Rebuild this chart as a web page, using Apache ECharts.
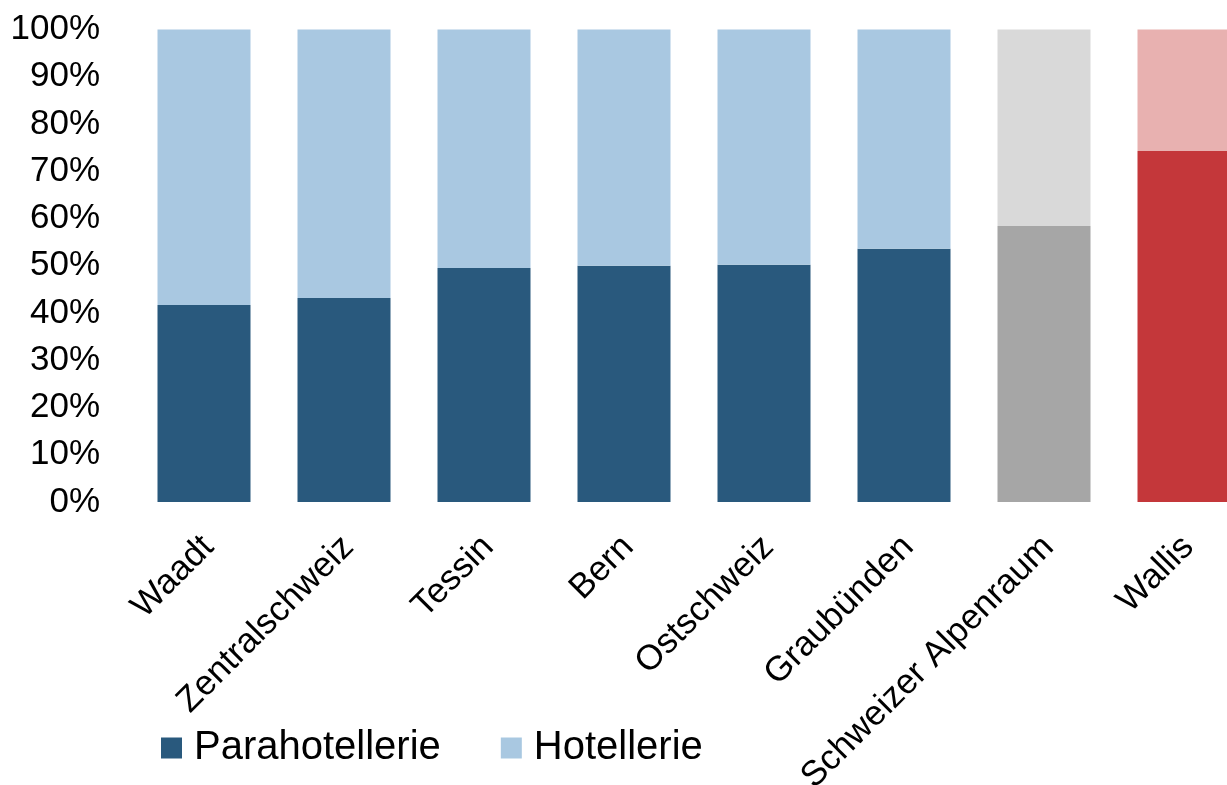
<!DOCTYPE html>
<html>
<head>
<meta charset="utf-8">
<script src="https://cdn.jsdelivr.net/npm/echarts@6/dist/echarts.min.js"></script>
<style>
  html, body { margin: 0; padding: 0; background: #fff; }
  #chart { width: 1227px; height: 785px; }
</style>
</head>
<body>
<div id="chart"></div>
<script>
// Regionen
var categories = ['Waadt', 'Zentralschweiz', 'Tessin', 'Bern', 'Ostschweiz', 'Graubünden', 'Schweizer Alpenraum', 'Wallis'];
// Anteile in %
var parahotellerie = [41.7, 43.2, 49.5, 50.0, 50.2, 53.6, 58.4, 74.3];
var hotellerie = [58.3, 56.8, 50.5, 50.0, 49.8, 46.4, 41.6, 25.7];
var yTicks = [0, 10, 20, 30, 40, 50, 60, 70, 80, 90, 100];

// Farben je Balken (dunkel / hell)
var darkColors = ['#29597d', '#29597d', '#29597d', '#29597d', '#29597d', '#29597d', '#a6a6a6', '#c4373a'];
var lightColors = ['#a9c8e1', '#a9c8e1', '#a9c8e1', '#a9c8e1', '#a9c8e1', '#a9c8e1', '#d9d9d9', '#e8b1b0'];

var font = 'Liberation Sans';

var chart = echarts.init(document.getElementById('chart'));
chart.setOption({
    animation: false,
    legend: {
        left: 156,
        bottom: 12,
        itemWidth: 21,
        itemHeight: 21,
        itemGap: 60,
        icon: 'rect',
        textStyle: { fontFamily: font, fontSize: 40, color: '#000', padding: [0, 0, 0, 7] },
        data: ['Parahotellerie', 'Hotellerie']
    },
    grid: {
        left: 134,
        width: 1120,
        top: 29.5,
        bottom: 283,
        outerBoundsMode: 'none',
        containLabel: false
    },
    xAxis: {
        type: 'category',
        data: categories,
        axisLine: { show: false },
        axisTick: { show: false },
        axisLabel: {
            interval: 0,
            rotate: 45,
            margin: 44,
            padding: [0, -6, 0, 0],
            fontFamily: font,
            fontSize: 35,
            color: '#000'
        }
    },
    yAxis: {
        type: 'value',
        min: 0,
        max: 100,
        interval: 10,
        splitLine: { show: false },
        axisLine: { show: false },
        axisTick: { show: false },
        axisLabel: {
            margin: 34,
            fontFamily: font,
            fontSize: 35,
            color: '#000',
            formatter: function (v) { return yTicks.indexOf(v) >= 0 ? v + '%' : ''; }
        }
    },
    series: [
        {
            name: 'Parahotellerie',
            type: 'bar',
            stack: 'total',
            barWidth: 93,
            itemStyle: { color: darkColors[0] },
            data: parahotellerie.map(function (v, i) {
                return { value: v, itemStyle: { color: darkColors[i] } };
            })
        },
        {
            name: 'Hotellerie',
            type: 'bar',
            stack: 'total',
            barWidth: 93,
            itemStyle: { color: lightColors[0] },
            data: hotellerie.map(function (v, i) {
                return { value: v, itemStyle: { color: lightColors[i] } };
            })
        }
    ]
});
</script>
</body>
</html>
